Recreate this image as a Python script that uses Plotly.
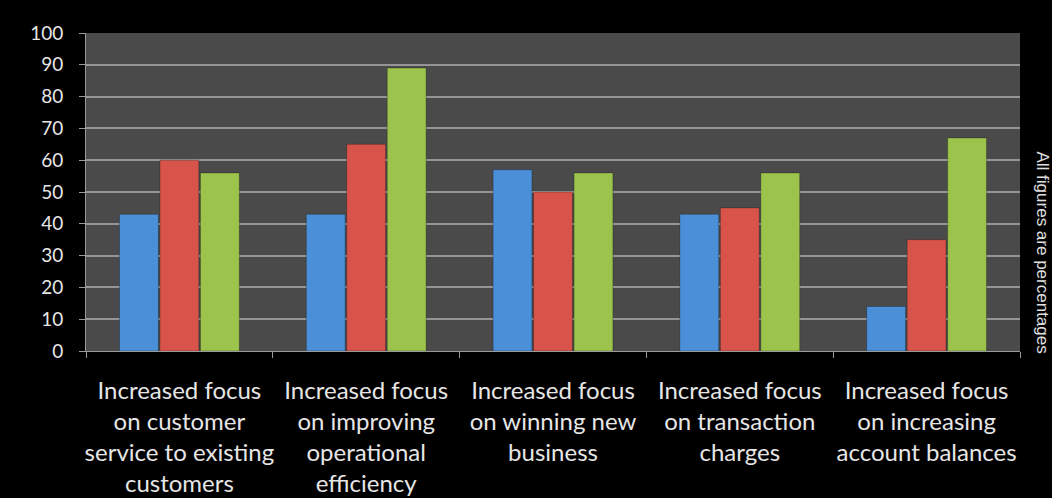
import plotly.graph_objects as go

categories = [
    "Increased focus<br>on customer<br>service to existing<br>customers",
    "Increased focus<br>on improving<br>operational<br>efficiency",
    "Increased focus<br>on winning new<br>business",
    "Increased focus<br>on transaction<br>charges",
    "Increased focus<br>on increasing<br>account balances",
]
series_names = ["Series 1", "Series 2", "Series 3"]
series_values = [
    [43, 43, 57, 43, 14],
    [60, 65, 50, 45, 35],
    [56, 89, 56, 56, 67],
]
series_colors = ["#4b8fd8", "#d8544b", "#9cc34c"]
y_ticks = [0, 10, 20, 30, 40, 50, 60, 70, 80, 90, 100]

fig = go.Figure()
for name, vals, col in zip(series_names, series_values, series_colors):
    fig.add_trace(go.Bar(
        x=categories, y=vals, name=name,
        marker=dict(color=col, line=dict(color="rgba(0,0,0,0.25)", width=1)),
    ))

label_font = dict(family="Lato, Open Sans, sans-serif", size=24, color="#e6e6e6")

fig.update_layout(
    width=1052, height=498,
    paper_bgcolor="#000000",
    plot_bgcolor="#4a4a4a",
    margin=dict(l=86, r=32, t=33, b=147, autoexpand=False),
    barmode="group",
    bargap=0.35,
    bargroupgap=0.04,
    showlegend=False,
    xaxis=dict(
        type="category",
        showgrid=False,
        showline=True, linecolor="#9a9a9a", linewidth=1,
        ticks="outside", tickson="boundaries", ticklen=6, tickcolor="#9a9a9a",
        tickfont=label_font,
        tickangle=0,
        automargin=False,
        ticklabelstandoff=18,
    ),
    yaxis=dict(
        range=[0, 100],
        tickvals=y_ticks,
        showgrid=True, gridcolor="#959595", gridwidth=1.5,
        showline=True, linecolor="#9a9a9a", linewidth=1,
        ticks="outside", ticklen=6, tickcolor="#9a9a9a",
        tickfont=dict(family="Lato, Open Sans, sans-serif", size=19, color="#e6e6e6"),
        ticklabelstandoff=12,
        automargin=False,
        zeroline=False,
    ),
    annotations=[dict(
        text="All figures are percentages",
        xref="paper", yref="paper",
        x=1.0, xshift=34, y=0.5, yshift=-60,
        textangle=90, showarrow=False,
        font=dict(family="Liberation Sans, Helvetica, sans-serif", size=17, color="#e0e0e0"),
    )],
)

fig.write_html("out.html")
